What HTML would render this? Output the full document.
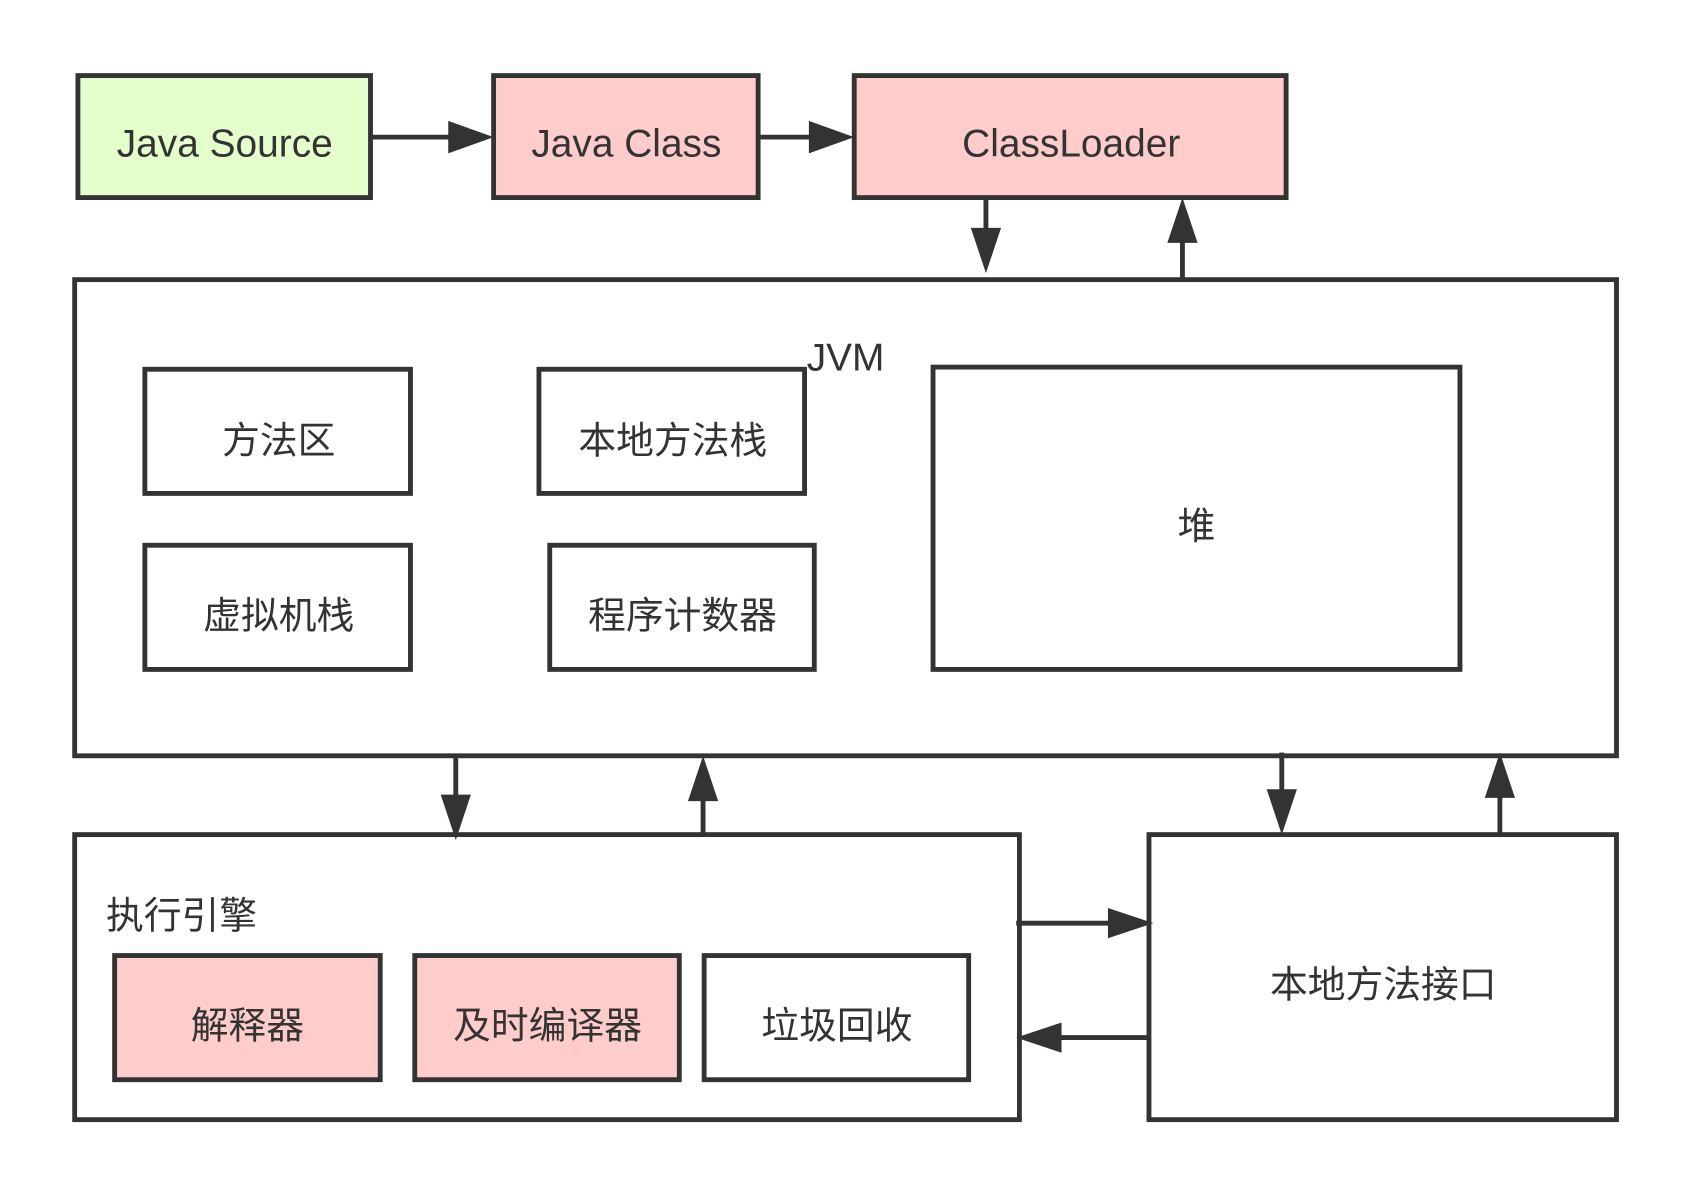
<!DOCTYPE html>
<html><head><meta charset="utf-8"><style>
html,body{margin:0;padding:0;background:#fff;}
svg{display:block;}
text{font-family:"Liberation Sans","Noto Sans CJK SC",sans-serif;fill:#333;}
</style></head><body>
<svg width="1689" height="1192" viewBox="0 0 1564 1104" xmlns="http://www.w3.org/2000/svg">
<defs>
<marker id="a" markerWidth="10" markerHeight="8" refX="10" refY="4" orient="auto" markerUnits="userSpaceOnUse" viewBox="0 0 10 8">
</marker>
</defs>
<g stroke="#333" stroke-width="4.5">
<rect x="72" y="70" width="271" height="113" fill="#e5ffcc"/>
<rect x="457" y="70" width="245" height="113" fill="#ffcccc"/>
<rect x="791" y="70" width="400" height="113" fill="#ffcccc"/>
<rect x="69" y="259" width="1428" height="441" fill="#fff"/>
<rect x="134" y="342" width="246" height="115" fill="#fff"/>
<rect x="499" y="342" width="246" height="115" fill="#fff"/>
<rect x="134" y="505" width="246" height="115" fill="#fff"/>
<rect x="509" y="505" width="245" height="115" fill="#fff"/>
<rect x="864" y="340" width="488" height="280" fill="#fff"/>
<rect x="69" y="773" width="875" height="264" fill="#fff"/>
<rect x="106" y="885" width="246" height="115" fill="#ffcccc"/>
<rect x="384" y="885" width="245" height="115" fill="#ffcccc"/>
<rect x="652" y="885" width="245" height="115" fill="#fff"/>
<rect x="1064" y="773" width="433" height="264" fill="#fff"/>
<!-- lines -->
<line x1="343" y1="127" x2="420" y2="127"/>
<line x1="702" y1="127" x2="752" y2="127"/>
<line x1="913" y1="183" x2="913" y2="215"/>
<line x1="1095" y1="259" x2="1095" y2="222"/>
<line x1="422" y1="700" x2="422" y2="740"/>
<line x1="651" y1="773" x2="651" y2="738"/>
<line x1="1187" y1="697" x2="1187" y2="735"/>
<line x1="1389" y1="773" x2="1389" y2="735"/>
<line x1="941" y1="855" x2="1030" y2="855"/>
<line x1="1064" y1="961" x2="980" y2="961"/>
</g>
<g fill="#333">
<polygon points="457,127 415,112 415,142"/>
<polygon points="791,127 749,112 749,142"/>
<polygon points="913,253 899,211 927,211"/>
<polygon points="1095,183 1081,225 1109,225"/>
<polygon points="422,778 408,736 436,736"/>
<polygon points="651,700 637,742 665,742"/>
<polygon points="1187,773 1173,731 1201,731"/>
<polygon points="1389,697 1375,739 1403,739"/>
<polygon points="1068,855 1026,841 1026,869"/>
<polygon points="941,961 983,947 983,975"/>
</g>
<g font-size="36" text-anchor="middle">
<text x="208" y="145">Java Source</text>
<text x="580" y="145">Java Class</text>
<text x="992" y="145">ClassLoader</text>
<text x="783" y="343">JVM</text>
<text x="258" y="420" font-size="35">方法区</text>
<text x="623" y="420" font-size="35">本地方法栈</text>
<text x="258" y="582" font-size="35">虚拟机栈</text>
<text x="632" y="582" font-size="35">程序计数器</text>
<text x="1108" y="499" font-size="35">堆</text>
<text x="98" y="860" font-size="35" text-anchor="start">执行引擎</text>
<text x="229" y="962" font-size="35">解释器</text>
<text x="507" y="962" font-size="35">及时编译器</text>
<text x="775" y="962" font-size="35">垃圾回收</text>
<text x="1281" y="924" font-size="35">本地方法接口</text>
</g>
</svg>
</body></html>
